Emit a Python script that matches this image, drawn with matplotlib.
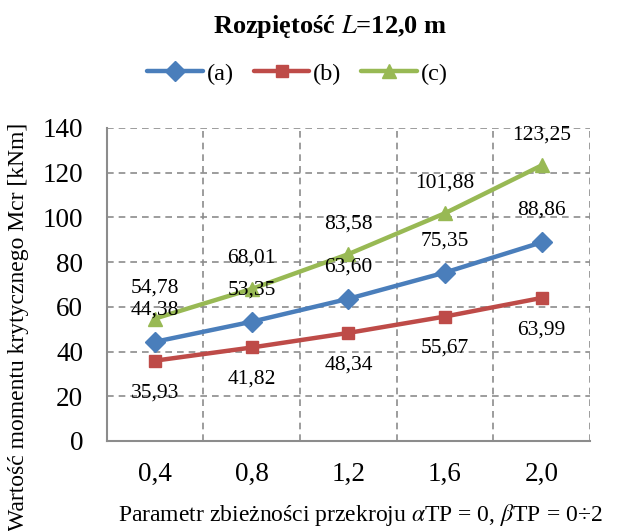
import matplotlib
matplotlib.use("Agg")
import matplotlib.pyplot as plt
from matplotlib.ticker import MultipleLocator

categories = ["0,4", "0,8", "1,2", "1,6", "2,0"]
series_a = [44.38, 53.35, 63.60, 75.35, 88.86]
series_b = [35.93, 41.82, 48.34, 55.67, 63.99]
series_c = [54.78, 68.01, 83.58, 101.88, 123.25]

plt.rcParams["font.family"] = ["Liberation Serif", "DejaVu Serif"]
plt.rcParams["mathtext.fontset"] = "stix"


def fmt(v):
    return ("%.2f" % v).replace(".", ",")


def main():
    fig = plt.figure(figsize=(6.21, 5.31), dpi=100)
    ax = fig.add_axes([0.172, 0.1695, 0.778, 0.5895])

    x = list(range(len(categories)))
    styles = [
        (series_a, "(a)", "#4a7ebb", "D", 10, 23),
        (series_b, "(b)", "#be4b48", "s", 9, -23),
        (series_c, "(c)", "#98b954", "^", 10, 22),
    ]
    for data, name, colour, marker, ms, off in styles:
        ax.plot(x, data, color=colour, lw=3.2, marker=marker, ms=ms,
                label=name, solid_capstyle="round", zorder=3)
        for xi, v in zip(x, data):
            ax.annotate(fmt(v), (xi, v), xytext=(0, off), textcoords="offset points",
                        ha="center", va="center", fontsize=15.5, zorder=4)

    ax.set_xlim(-0.5, len(categories) - 0.5)
    ax.set_ylim(0, 140)
    ax.yaxis.set_major_locator(MultipleLocator(20))
    ax.set_xticks(x)
    ax.set_xticklabels(categories)
    ax.set_xticks([i + 0.5 for i in range(-1, len(categories))], minor=True)

    ax.grid(True, which="major", axis="y", ls=(0, (4, 3)), color="#8c8c8c", lw=1.2)
    ax.grid(True, which="minor", axis="x", ls=(0, (4, 3)), color="#8c8c8c", lw=1.2)
    for s in ["top", "right"]:
        ax.spines[s].set_visible(False)
    for s in ["left", "bottom"]:
        ax.spines[s].set_color("#8c8c8c")
        ax.spines[s].set_linewidth(1.5)
    ax.tick_params(axis="both", which="both", length=0, labelsize=19.5)
    ax.tick_params(axis="y", pad=17)
    ax.tick_params(axis="x", pad=15)

    fig.text(0.03, 0.385, "Wartość momentu krytycznego Mcr [kNm]", rotation=90,
             ha="center", va="center", fontsize=17)
    fig.text(0.58, 0.03,
             r"Parametr zbieżności przekroju $\mathit{\alpha}$TP = 0, $\mathit{\beta}$TP = 0÷2",
             ha="center", va="center", fontsize=17)

    fig.text(0.531, 0.951, r"Rozpiętość $\mathbf{\mathit{L}}$=12,0 m", ha="center", va="center",
             fontsize=19, fontweight="bold")
    fig.legend(loc="center", bbox_to_anchor=(0.479, 0.861), ncol=3, frameon=False,
               fontsize=17.5, handlelength=2.3, handletextpad=0.15, columnspacing=0.8)

    fig.savefig("out.png", dpi=100)


if __name__ == "__main__":
    main()
